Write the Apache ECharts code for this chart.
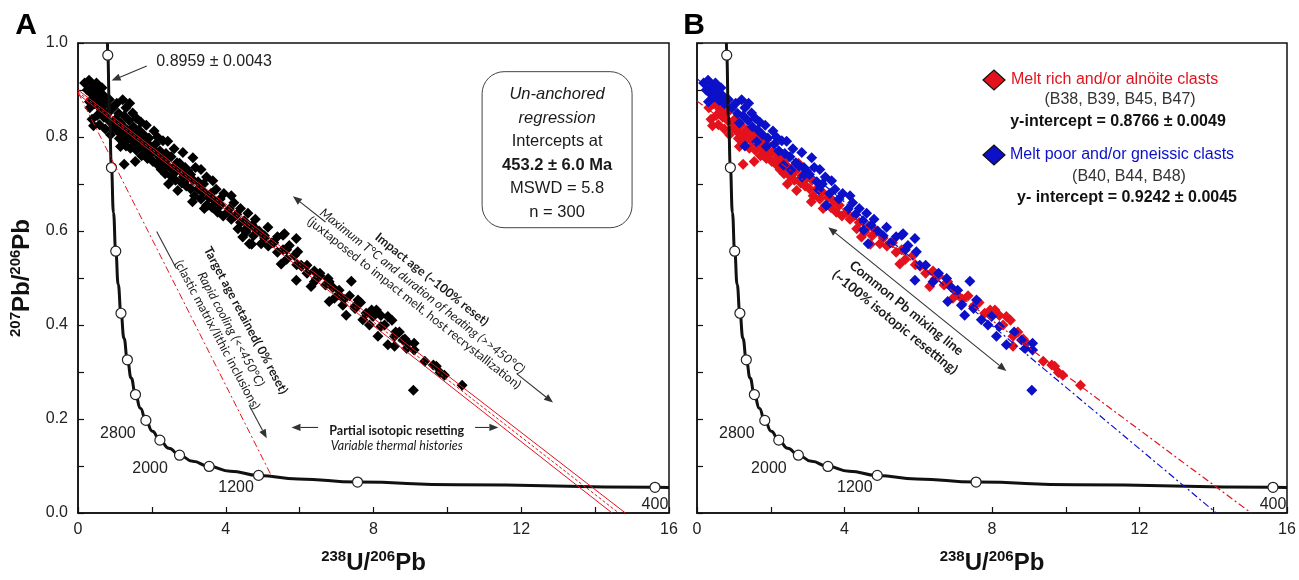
<!DOCTYPE html>
<html><head><meta charset="utf-8">
<script src="https://cdn.jsdelivr.net/npm/echarts/dist/echarts.min.js"></script>
<style>html,body{margin:0;padding:0;background:#fff}#c{width:1299px;height:580px}</style>
</head><body><div id="c"></div>
<script>
// ---------- data ----------
const xTickLabels = [0, 4, 8, 12, 16];
const yTickLabels = [0.0, 0.2, 0.4, 0.6, 0.8, 1.0];

// melt rich and/or alnoite clasts (red)
const red = [
[0.32,0.862],[0.38,0.838],[0.45,0.871],[0.52,0.846],[0.58,0.826],[0.63,0.858],[0.70,0.842],[0.74,0.817],[0.80,0.850],[0.86,0.833],[0.92,0.861],[0.97,0.820],[0.42,0.824],[0.55,0.866],[0.88,0.805],
[1.02,0.838],[1.08,0.812],[1.12,0.797],[1.18,0.826],[1.22,0.805],[1.28,0.789],[1.33,0.815],[1.38,0.798],[1.42,0.776],[1.47,0.808],[1.52,0.790],[1.58,0.772],[1.63,0.801],[1.68,0.781],[1.72,0.760],[1.78,0.792],[1.83,0.771],[1.88,0.754],[1.93,0.783],[1.98,0.765],[1.25,0.742],[1.55,0.748],[1.15,0.780],
[2.03,0.748],[2.08,0.771],[2.14,0.742],[2.20,0.758],[2.25,0.731],[2.31,0.749],[2.36,0.722],[2.42,0.740],[2.47,0.757],[2.53,0.716],[2.58,0.733],[2.64,0.708],[2.70,0.686],[2.75,0.744],[2.81,0.702],[2.87,0.720],[2.93,0.696],[2.98,0.713],[2.45,0.700],[2.66,0.727],
[3.05,0.690],[3.12,0.708],[3.15,0.675],[3.25,0.690],[3.33,0.668],[3.40,0.683],[3.48,0.655],[3.55,0.672],[3.63,0.650],[3.70,0.664],[3.78,0.640],[3.86,0.655],[3.93,0.632],[3.42,0.648],[3.10,0.662],
[4.05,0.640],[4.15,0.625],[4.25,0.632],[4.33,0.605],[4.46,0.587],[4.55,0.598],[4.65,0.610],[4.75,0.590],[4.85,0.600],[4.96,0.573],[4.40,0.618],[4.70,0.572],
[5.05,0.585],[5.15,0.568],[5.30,0.575],[5.40,0.555],[5.55,0.560],[5.65,0.540],[5.86,0.548],[5.92,0.528],[5.50,0.530],
[6.05,0.525],[6.20,0.510],[6.31,0.482],[6.45,0.498],[6.55,0.505],[6.70,0.485],[6.80,0.492],[6.94,0.457],[6.40,0.515],
[7.05,0.465],[7.20,0.455],[7.35,0.462],[7.50,0.440],[7.65,0.448],[7.80,0.425],[7.95,0.432],
[8.08,0.432],[8.20,0.420],[8.39,0.418],[8.50,0.410],[8.57,0.376],[8.70,0.385],[8.85,0.370],[8.93,0.362],[8.30,0.400],[8.57,0.355],
[9.39,0.323],[9.62,0.315],[9.70,0.312],[9.80,0.299],[9.92,0.293],[10.40,0.272]
];

// melt poor and/or gneissic clasts (blue)
const blue = [
[0.18,0.915],[0.25,0.900],[0.30,0.921],[0.35,0.893],[0.40,0.908],[0.45,0.885],[0.50,0.915],[0.55,0.896],[0.60,0.878],[0.65,0.905],[0.70,0.888],[0.75,0.870],[0.85,0.880],[0.95,0.862],[0.31,0.875],[0.49,0.894],
[1.05,0.872],[1.10,0.850],[1.21,0.879],[1.25,0.845],[1.30,0.862],[1.38,0.835],[1.48,0.851],[1.50,0.822],[1.58,0.840],[1.65,0.815],[1.70,0.832],[1.78,0.805],[1.85,0.825],[1.92,0.798],[1.40,0.872],[1.15,0.830],[1.62,0.790],[1.88,0.780],[1.30,0.781],
[2.06,0.813],[2.10,0.785],[2.15,0.800],[2.22,0.770],[2.30,0.792],[2.38,0.765],[2.43,0.791],[2.52,0.758],[2.60,0.775],[2.68,0.745],[2.84,0.767],[2.78,0.738],[2.90,0.735],[2.97,0.728],[2.35,0.740],[2.55,0.730],[2.85,0.715],
[3.11,0.756],[3.05,0.720],[3.18,0.735],[3.25,0.705],[3.33,0.731],[3.40,0.700],[3.48,0.715],[3.51,0.654],[3.65,0.707],[3.74,0.689],[3.60,0.680],[3.85,0.668],[3.95,0.680],[3.30,0.688],
[4.15,0.675],[4.10,0.647],[4.22,0.660],[4.30,0.635],[4.40,0.648],[4.50,0.622],[4.60,0.638],[4.64,0.573],[4.72,0.612],[4.80,0.625],[4.90,0.600],[4.52,0.602],
[5.05,0.590],[5.14,0.608],[5.25,0.575],[5.40,0.588],[5.55,0.591],[5.59,0.594],[5.65,0.560],[5.72,0.569],[5.91,0.584],[5.95,0.556],
[6.04,0.527],[6.20,0.527],[5.91,0.495],[6.40,0.492],[6.77,0.499],[6.90,0.480],[6.55,0.510],[6.80,0.450],
[7.07,0.474],[7.17,0.442],[7.26,0.421],[7.40,0.493],[7.58,0.453],[7.71,0.411],[7.89,0.400],[7.99,0.418],[7.50,0.435],
[8.20,0.397],[8.12,0.376],[8.39,0.358],[8.80,0.368],[9.10,0.361],[9.10,0.347],[8.60,0.385],[8.90,0.350],[9.08,0.261]
];

// concordia curve (x = 238U/206Pb, y = 207Pb/206Pb)
const concordia = [
[0.797,1.0],[0.806,0.974],[0.853,0.845],[0.905,0.735],[0.960,0.639],[1.022,0.557],[1.089,0.486],[1.163,0.425],[1.245,0.372],[1.337,0.326],[1.440,0.287],[1.556,0.252],[1.688,0.223],[1.838,0.197],[2.013,0.174],[2.217,0.155],[2.459,0.138],[2.749,0.123],[3.104,0.110],[3.550,0.099],[4.123,0.089],[4.888,0.080],[5.959,0.0725],[7.568,0.0658],[10.25,0.0599],[15.62,0.0547],[16.0,0.0545]
];
// 400 Ma age markers on concordia
const concordiaMarkers = [
[0.806,0.974],[0.905,0.735],[1.022,0.557],[1.163,0.425],[1.337,0.326],[1.556,0.252],[1.838,0.197],[2.217,0.155],[2.749,0.123],[3.550,0.099],[4.888,0.080],[7.568,0.0658],[15.62,0.0547]
];
const ageLabels = ['2800', '2000', '1200', '400'];
const ageLabelPos = [[1.08,0.168],[1.95,0.094],[4.28,0.053],[15.62,0.018]];

// regression lines
const regCenterA = [[0, 0.8959], [14.64, 0]];
const regUpperA  = [[0, 0.9002], [14.82, 0]];
const regLowerA  = [[0, 0.8916], [14.46, 0]];
const targetLineA = [[0, 0.895], [5.25, 0.077]];
const regRedB  = [[0, 0.8766], [15.03, 0]];
const regBlueB = [[0, 0.9242], [14.08, 0]];

// ---------- chart ----------
const FONT = 'Arial, "Liberation Sans", sans-serif';
const ANN = 'Lato, "Open Sans", sans-serif';
const RED = '#e3121c', BLUE = '#0c10c8';
const chart = echarts.init(document.getElementById('c'));

const titleRich = {
  b: {fontSize: 24, fontWeight: 'bold', fontFamily: FONT, color: '#111', lineHeight: 28},
  s: {fontSize: 15, fontWeight: 'bold', fontFamily: FONT, color: '#111', lineHeight: 16, verticalAlign: 'top'}
};
function xAxis(i) {
  return {
    gridIndex: i, type: 'value', min: 0, max: 16, interval: 2,
    axisLine: {show: true, onZero: false, lineStyle: {color: '#111', width: 1.5}},
    axisTick: {show: true, inside: true, length: 6, lineStyle: {color: '#111', width: 1.2}},
    axisLabel: {fontSize: 16, color: '#222', fontFamily: FONT, margin: 9,
      formatter: v => xTickLabels.indexOf(v) >= 0 ? String(v) : ''},
    splitLine: {show: false},
    name: '{s|238}{b|U/}{s|206}{b|Pb}', nameLocation: 'middle', nameGap: 36,
    nameTextStyle: {rich: titleRich}
  };
}
function yAxis(i) {
  return {
    gridIndex: i, type: 'value', min: 0, max: 1, interval: 0.1,
    axisLine: {show: true, onZero: false, lineStyle: {color: '#111', width: 1.5}},
    axisTick: {show: true, inside: true, length: 6, lineStyle: {color: '#111', width: 1.2}},
    axisLabel: {show: i === 0, fontSize: 16, color: '#222', fontFamily: FONT, margin: 10,
      formatter: v => yTickLabels.some(t => Math.abs(t - v) < 1e-6) ? v.toFixed(1) : ''},
    splitLine: {show: false},
    name: i === 0 ? '{s|207}{b|Pb/}{s|206}{b|Pb}' : '', nameLocation: 'middle', nameGap: 42, nameRotate: 90,
    nameTextStyle: {rich: titleRich}
  };
}
function lineS(g, data, color, type, width, z) {
  return {type: 'line', xAxisIndex: g, yAxisIndex: g, data, symbol: 'none', silent: true,
    lineStyle: {color, type, width}, z: z || 5, animation: false};
}
function concS(g) {
  return [
    {type: 'line', xAxisIndex: g, yAxisIndex: g, data: concordia, symbol: 'none', smooth: true, smoothMonotone: 'x',
      lineStyle: {color: '#111', width: 3}, z: 6, silent: true, animation: false},
    {type: 'scatter', xAxisIndex: g, yAxisIndex: g, data: concordiaMarkers, symbol: 'circle', symbolSize: 10,
      itemStyle: {color: '#fff', borderColor: '#222', borderWidth: 1.2, opacity: 1}, z: 7, silent: true, animation: false}
  ];
}
const scat = (g, data, color, z) => ({type: 'scatter', xAxisIndex: g, yAxisIndex: g, data, symbol: 'diamond', symbolSize: 11,
  itemStyle: {color, opacity: 1}, z: z || 3, silent: true, animation: false});

const dashDot = [7, 3, 2, 3];
const option = {
  animation: false,
  backgroundColor: '#fff',
  grid: [
    {left: 78, top: 43, width: 591, height: 473, show: true, borderColor: '#111', borderWidth: 1.5, backgroundColor: 'transparent'},
    {left: 697, top: 43, width: 590, height: 473, show: true, borderColor: '#111', borderWidth: 1.5, backgroundColor: 'transparent'}
  ],
  xAxis: [xAxis(0), xAxis(1)],
  yAxis: [yAxis(0), yAxis(1)],
  series: [
    scat(0, red.concat(blue), '#000'),
    ...concS(0),
    lineS(0, regUpperA, RED, 'solid', 1, 8),
    lineS(0, regLowerA, RED, 'solid', 1, 8),
    lineS(0, regCenterA, RED, [3, 2], 1, 8),
    lineS(0, targetLineA, RED, dashDot, 1, 8),
    scat(1, red, RED, 3),
    scat(1, blue, BLUE, 4),
    ...concS(1),
    lineS(1, regRedB, RED, dashDot, 1.2, 8),
    lineS(1, regBlueB, BLUE, dashDot, 1.2, 8)
  ]
};
chart.setOption(option);

// ---------- annotations ----------
const P = (g, p) => chart.convertToPixel({gridIndex: g}, p);
const els = [];
function txt(p, text, o) {
  o = o || {};
  const font = (o.style || 'normal') + ' ' + (o.weight || 'normal') + ' ' + (o.size || 16) + 'px ' + (o.family || FONT);
  els.push({type: 'text', x: p[0], y: p[1], rotation: o.rot || 0, z: 100, silent: true,
    style: {text, font, fill: o.color || '#222', align: o.align || 'center', verticalAlign: 'middle',
      textAlign: o.align || 'center', textVerticalAlign: 'middle'}});
}
function arrow(a, b, o) {
  o = o || {};
  const dx = b[0] - a[0], dy = b[1] - a[1], L = Math.hypot(dx, dy), ux = dx / L, uy = dy / L;
  const HL = 9, HW = 3.6, col = o.color || '#333';
  const both = o.both;
  const segs = o.gap ? [[0, o.gap[0]], [o.gap[1], 1]] : [[0, 1]];
  const ts = both ? HL / L : 0, te = 1 - HL / L;
  segs.forEach(s => {
    const t0 = Math.max(s[0], ts), t1 = Math.min(s[1], te);
    if (t1 <= t0) return;
    els.push({type: 'line', z: 90, silent: true, shape: {x1: a[0] + dx * t0, y1: a[1] + dy * t0, x2: a[0] + dx * t1, y2: a[1] + dy * t1},
      style: {stroke: col, lineWidth: 1.1}});
  });
  const head = (tip, sx, sy) => {
    const bx = tip[0] - sx * HL, by = tip[1] - sy * HL;
    els.push({type: 'polygon', z: 90, silent: true, shape: {points: [tip, [bx - sy * HW, by + sx * HW], [bx + sy * HW, by - sx * HW]]},
      style: {fill: col}});
  };
  head(b, ux, uy);
  if (both) head(a, -ux, -uy);
  return Math.atan2(dy, dx);
}

// panel letters
txt([26, 26], 'A', {size: 30, weight: 'bold', color: '#000'});
txt([694, 26], 'B', {size: 30, weight: 'bold', color: '#000'});

// concordia age labels
[0, 1].forEach(g => ageLabels.forEach((t, i) => txt(P(g, ageLabelPos[i]), t, {size: 16})));

// A: intercept label
txt(P(0, [2.12, 0.9595]), '0.8959 \u00b1 0.0043', {size: 16, align: 'left'});
arrow(P(0, [1.86, 0.951]), P(0, [0.91, 0.920]));

// A: result box
(function () {
  const tl = P(0, [10.94, 0.939]), br = P(0, [15.0, 0.607]);
  els.push({type: 'rect', z: 95, silent: true, shape: {x: tl[0], y: tl[1], width: br[0] - tl[0], height: br[1] - tl[1], r: 22},
    style: {fill: '#fff', stroke: '#444', lineWidth: 1}});
  const cx = (tl[0] + br[0]) / 2;
  const lines = [['Un-anchored', 'italic', 'normal'], ['regression', 'italic', 'normal'], ['Intercepts at', 'normal', 'normal'],
    ['453.2 \u00b1 6.0 Ma', 'normal', 'bold'], ['MSWD = 5.8', 'normal', 'normal'], ['n = 300', 'normal', 'normal']];
  lines.forEach((l, i) => txt([cx, tl[1] + 23 + i * 23.5], l[0], {size: 16.5, style: l[1], weight: l[2], color: '#1a1a1a'}));
})();

// A: impact age arrow and text
(function () {
  const a = P(0, [5.82, 0.674]), b = P(0, [12.86, 0.235]);
  const ang = arrow(a, b, {both: true, gap: [0.125, 0.86]});
  txt(P(0, [9.58, 0.497]), 'Impact age (~100% reset)', {size: 12.5, weight: 'bold', family: ANN, rot: -ang, color: '#1a1a1a'});
  txt(P(0, [9.32, 0.472]), 'Maximum T\u00b0C and duration of heating (>>450\u00b0C)', {size: 12.5, style: 'italic', family: ANN, rot: -ang, color: '#1a1a1a'});
  txt(P(0, [9.10, 0.447]), '(juxtaposed to impact melt, host recrystallization)', {size: 12.5, family: ANN, rot: -ang, color: '#1a1a1a'});
})();

// A: target age arrow and text
(function () {
  const a = P(0, [2.13, 0.599]), b = P(0, [5.11, 0.159]);
  const ang = arrow(a, b, {gap: [0.18, 0.84]});
  txt(P(0, [4.54, 0.410]), 'Target age retained( 0% reset)', {size: 12.5, weight: 'bold', family: ANN, rot: -ang, color: '#1a1a1a'});
  txt(P(0, [4.14, 0.391]), 'Rapid cooling (<<450\u00b0C)', {size: 12.5, style: 'italic', family: ANN, rot: -ang, color: '#1a1a1a'});
  txt(P(0, [3.77, 0.379]), '(clastic matrix/lithic inclusions)', {size: 12.5, family: ANN, rot: -ang, color: '#1a1a1a'});
})();

// A: partial resetting
(function () {
  arrow(P(0, [6.50, 0.182]), P(0, [5.78, 0.182]));
  arrow(P(0, [10.75, 0.182]), P(0, [11.38, 0.182]));
  txt(P(0, [8.63, 0.174]), 'Partial isotopic resetting', {size: 12.5, weight: 'bold', family: ANN, color: '#1a1a1a'});
  txt(P(0, [8.63, 0.143]), 'Variable thermal histories', {size: 12.5, style: 'italic', family: ANN, color: '#1a1a1a'});
})();

// B: common Pb mixing line arrow
(function () {
  const a = P(1, [3.56, 0.608]), b = P(1, [8.39, 0.302]);
  const ang = arrow(a, b, {both: true});
  txt(P(1, [5.68, 0.436]), 'Common Pb mixing line', {size: 13.5, weight: 'bold', family: ANN, rot: -ang, color: '#1a1a1a'});
  txt(P(1, [5.37, 0.406]), '(~100% isotopic resetting)', {size: 13.5, weight: 'bold', family: ANN, rot: -ang, color: '#1a1a1a'});
})();

// B: legend
(function () {
  const dia = (cx, cy, col) => els.push({type: 'polygon', z: 100, silent: true,
    shape: {points: [[cx - 11, cy], [cx, cy - 10], [cx + 11, cy], [cx, cy + 10]]}, style: {fill: col, stroke: '#111', lineWidth: 1.2}});
  dia(994, 80, RED);
  txt([1011, 80], 'Melt rich and/or aln\u00f6ite clasts', {size: 16, align: 'left', color: RED});
  txt([1120, 100], '(B38, B39, B45, B47)', {size: 16, color: '#333'});
  txt([1118, 122], 'y-intercept = 0.8766 \u00b1 0.0049', {size: 16, weight: 'bold', color: '#111'});
  dia(994, 155, BLUE);
  txt([1010, 155], 'Melt poor and/or gneissic clasts', {size: 16, align: 'left', color: BLUE});
  txt([1129, 177], '(B40, B44, B48)', {size: 16, color: '#333'});
  txt([1127, 198], 'y- intercept = 0.9242 \u00b1 0.0045', {size: 16, weight: 'bold', color: '#111'});
})();

chart.setOption({graphic: els});
</script>
</body></html>
